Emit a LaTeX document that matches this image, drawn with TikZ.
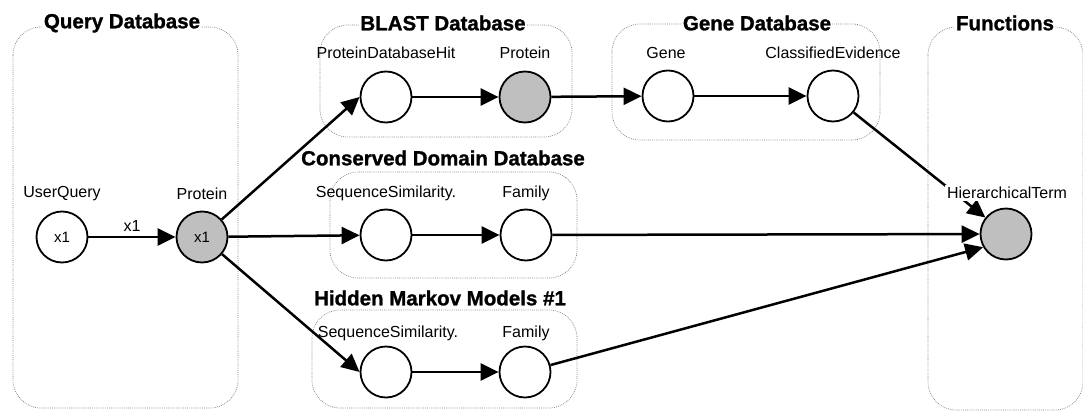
\documentclass[tikz,border=0pt]{standalone}
\usepackage{fontspec}
\setmainfont{Liberation Sans}
\newfontfamily\titlefont[FakeBold=1.2]{Liberation Sans Bold}
\usetikzlibrary{arrows.meta}
\begin{document}
\begin{tikzpicture}[x=1pt,y=-1pt,
  var/.style={circle, draw, line width=1.8pt, minimum size=51pt, inner sep=0pt,
              font=\fontsize{15}{15}\selectfont},
  obs/.style={var, fill=gray!50},
  lbl/.style={font=\fontsize{16}{17}\selectfont, inner sep=1pt},
  grp/.style={draw=gray, line width=0.7pt, dash pattern=on 0.8pt off 1.1pt,
              rounded corners=28pt},
  ttl/.style={font=\titlefont\fontsize{20.5}{22}\selectfont, fill=white, inner sep=1pt},
  edge/.style={line width=2.5pt, -{Triangle[length=18pt,width=17pt]}}
]
\useasboundingbox (0,0) rectangle (1083,412);

% plates of the model
\draw[grp] (13,27) rectangle (238,408);
\draw[grp] (320,25) rectangle (572,137);
\draw[grp] (612,24) rectangle (880,140);
\draw[grp] (330,172) rectangle (577,278);
\draw[grp] (312,310) rectangle (577,408);
\draw[grp] (928,27) rectangle (1083,410);

% plate titles
\node[ttl] (tquery) at (122,23) {Query Database};
\node[ttl] (tblast) at (443,23) {BLAST Database};
\node[ttl] (tgene)  at (757,23) {Gene Database};
\node[ttl] (tfunc)  at (1005,23) {Functions};
\node[ttl] (tcdd)   at (443,158) {Conserved Domain Database};
\node[ttl] (thmm)   at (440,298) {Hidden Markov Models \#1};

% variables
\node[var] (uq)   at (62,237)  {x1};
\node[obs] (qp)   at (202,237) {x1};
\node[var] (pdb)  at (386,97)  {};
\node[obs] (bp)   at (525,97)  {};
\node[var] (gene) at (668,96)  {};
\node[var] (ce)   at (833,96)  {};
\node[var] (css)  at (386,235) {};
\node[var] (cfam) at (526,235) {};
\node[var] (hss)  at (386,372) {};
\node[var] (hfam) at (525,372) {};
\node[obs] (ht)   at (1006,234) {};

% variable names
\node[lbl] (luq)   at (62,194)  {UserQuery};
\node[lbl] (lqp)   at (202,194) {Protein};
\node[lbl] (lpdb)  at (386,53)  {ProteinDatabaseHit};
\node[lbl] (lbp)   at (525,53)  {Protein};
\node[lbl] (lgene) at (666,53)  {Gene};
\node[lbl] (lce)   at (833,53)  {ClassifiedEvidence};
\node[lbl] (lcss)  at (386,193) {SequenceSimilarity.};
\node[lbl] (lcfam) at (526,193) {Family};
\node[lbl] (lhss)  at (388,333) {SequenceSimilarity.};
\node[lbl] (lhfam) at (526,333) {Family};

% dependencies
\draw[edge] (uq) -- node[lbl, above=3pt] (lx) {x1} (qp);
\draw[edge] (qp) -- (pdb.west);
\draw[edge] (qp) -- (css);
\draw[edge] (qp) -- (hss.west);
\draw[edge] (pdb) -- (bp);
\draw[edge] (bp) -- (gene);
\draw[edge] (gene) -- (ce);
\draw[edge] (css) -- (cfam);
\draw[edge] (hss) -- (hfam);
\draw[edge] (ce) -- (ht);
\draw[edge] (cfam) -- (ht);
\draw[edge] (hfam) -- (ht.-150);

\node[lbl, fill=white, inner sep=2pt] (lht) at (1007,193) {HierarchicalTerm};
\end{tikzpicture}
\end{document}
